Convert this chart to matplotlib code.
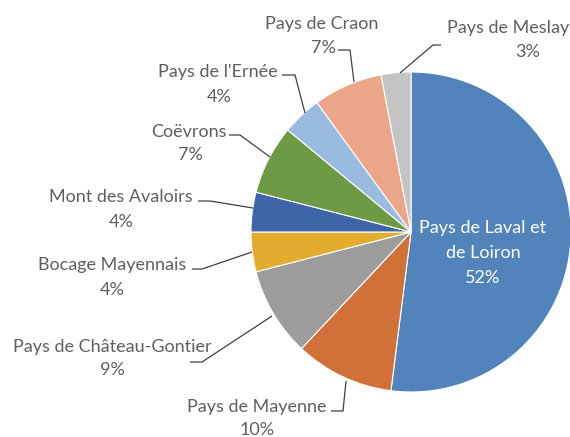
import numpy as np
import matplotlib
matplotlib.use("Agg")
import matplotlib.pyplot as plt

# part des territoires (%), dans l'ordre des aiguilles d'une montre depuis midi
territoires = ["Pays de Laval et\nde Loiron", "Pays de Mayenne", "Pays de Château-Gontier",
               "Bocage Mayennais", "Mont des Avaloirs", "Coëvrons", "Pays de l'Ernée",
               "Pays de Craon", "Pays de Meslay"]
parts = [52, 10, 9, 4, 4, 7, 4, 7, 3]
couleurs = ["#5283BA", "#D0713A", "#9C9C9C", "#E3AC2E", "#3D65A8",
            "#6F9A45", "#9ABBE0", "#EBA68A", "#C4C4C4"]

# pie is drawn in a frame where 1 unit = 160 px, center at (411, 232) px
R = 160.0
CX, CY = 411.0, 232.0


def px(x, y):
    return (x - CX) / R, (CY - y) / R


fig = plt.figure(figsize=(5.7, 4.37), dpi=100)
ax = fig.add_axes([0, 0, 1, 1])
wedges, _ = ax.pie(parts, colors=couleurs, startangle=90, counterclock=False,
                   radius=1.0, wedgeprops=dict(edgecolor="white", linewidth=0.8))
ax.set_xlim(-CX / R, (570 - CX) / R)
ax.set_ylim((CY - 437) / R, CY / R)
ax.set_aspect("equal")
ax.axis("off")

txt_col = "#5f5f5f"
line_col = "#404040"
fnt = "Lato"
fs = 13

# name x, name baseline, pct x, pct baseline (px)
label_pos = {
    1: (257, 412, 257, 435), 2: (112, 352, 112, 375), 3: (112, 270, 112, 295),
    4: (121, 202, 121, 227), 5: (189, 137, 190, 160), 6: (218, 77, 219, 102),
    7: (322, 29, 323, 53), 8: (508, 33, 528, 57),
}
leaders = {
    1: [(331, 411), (343, 411), (346, 381)],
    2: [(190, 362), (202, 362), (272, 316)],
    3: [(192, 269), (202, 269), (252, 252)],
    4: [(198, 201), (210, 201), (253, 208)],
    5: [(229, 135), (240, 135), (270, 157)],
    6: [(282, 75), (295, 75), (305, 113)],
    7: [(338, 50), (350, 50), (354, 82)],
    8: [(441, 45), (433, 45), (400, 73)],
}

for i in range(1, len(parts)):
    nx, ny, qx, qy = label_pos[i]
    x, y = px(nx, ny)
    ax.text(x, y, territoires[i], ha="center", va="baseline",
            color=txt_col, fontsize=fs, family=fnt)
    x, y = px(qx, qy)
    ax.text(x, y, f"{parts[i]}%", ha="center", va="baseline",
            color=txt_col, fontsize=fs, family=fnt)
    pts = np.array([px(a, b) for a, b in leaders[i]])
    ax.plot(pts[:, 0], pts[:, 1], color=line_col, lw=0.9, solid_capstyle="butt")

for line, base in zip(territoires[0].split("\n") + [f"{parts[0]}%"], [233, 258, 283]):
    x, y = px(483, base)
    ax.text(x, y, line, ha="center", va="baseline", color="white",
            fontsize=fs, family=fnt)

fig.savefig("out.png", dpi=100)
